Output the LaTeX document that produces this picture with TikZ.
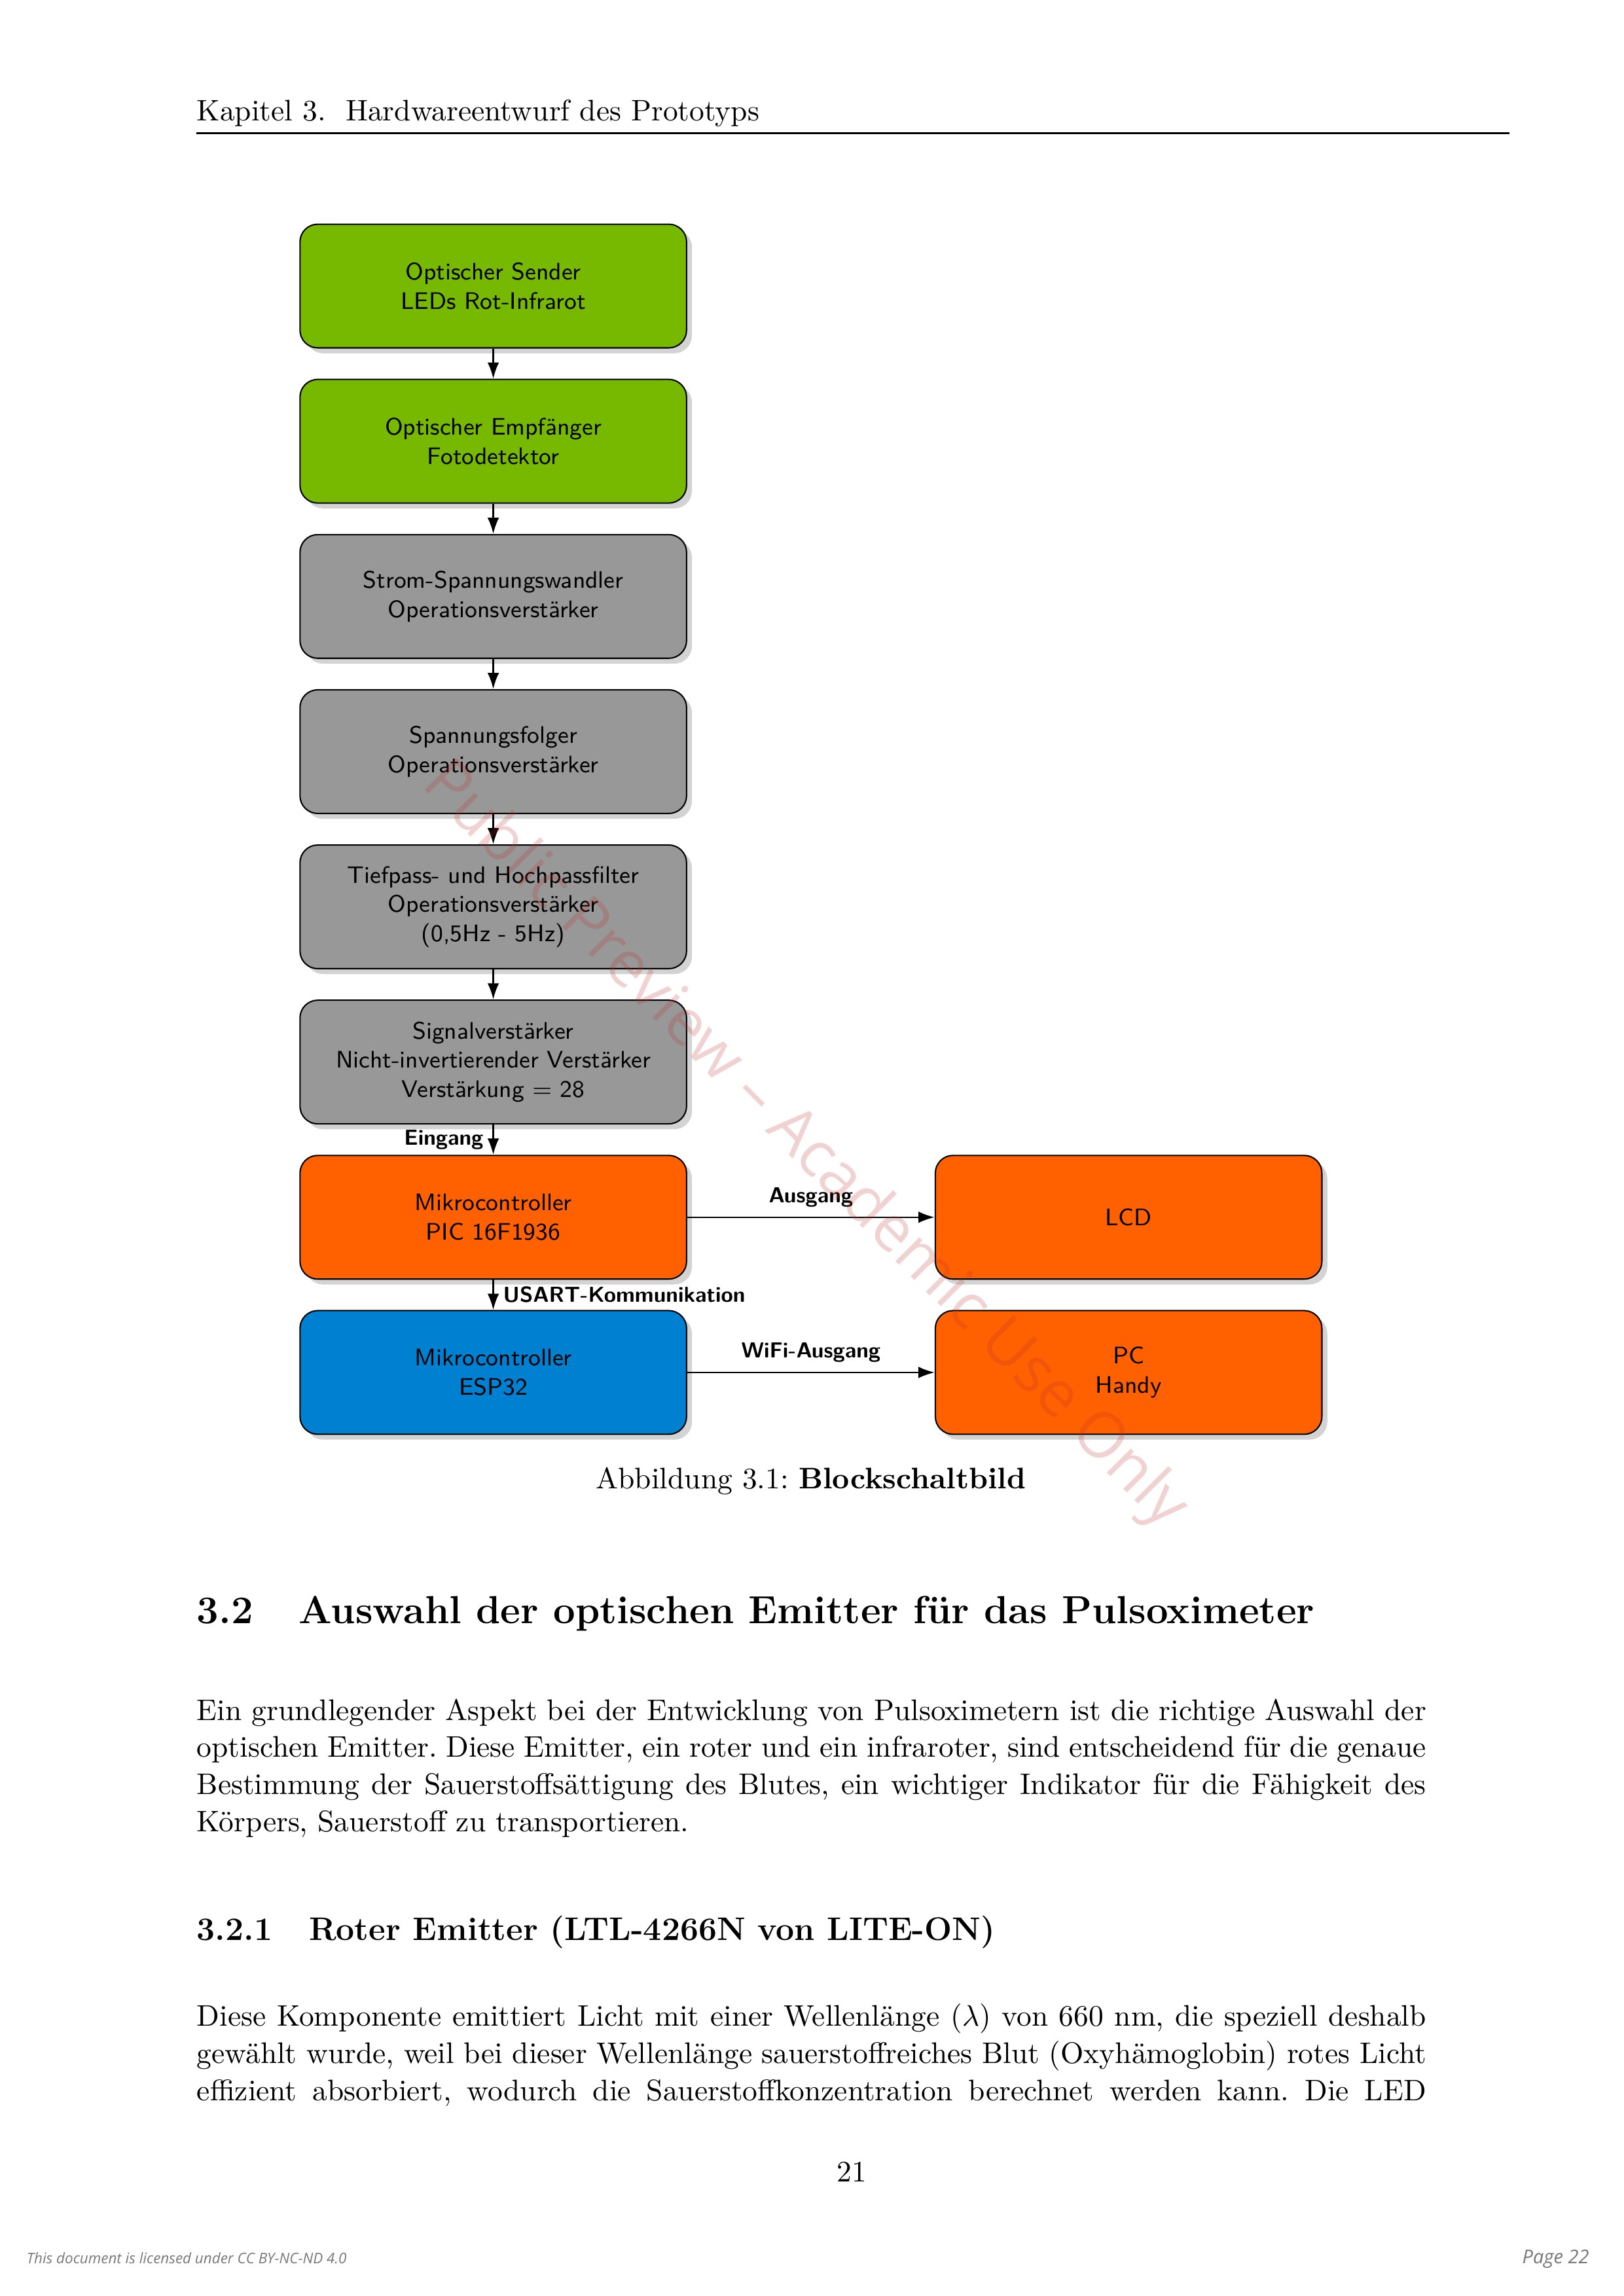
\documentclass[tikz,border=0pt]{standalone}
\usepackage{fontspec}
\newfontfamily\opensans{Open Sans}
\usetikzlibrary{positioning,shadows,arrows.meta}
\frenchspacing

\definecolor{sendgreen}{RGB}{118,185,0}
\definecolor{opgray}{RGB}{152,152,152}
\definecolor{outorange}{RGB}{255,96,0}
\definecolor{espblue}{RGB}{0,128,208}
\definecolor{wmred}{RGB}{190,50,50}
\definecolor{footgray}{RGB}{120,120,120}

\tikzset{
    block/.style={draw, rounded corners=2.3mm, minimum width=5cm, minimum height=1.6cm,
        align=center, line width=0.5pt, font=\fontsize{8.8}{10.8}\selectfont\sffamily,
        drop shadow={shadow xshift=0.7mm, shadow yshift=-0.7mm, opacity=0.35}},
    conn/.style={-{Latex[length=2.1mm,width=1.5mm]}, line width=0.6pt},
    lbl/.style={font=\fontsize{8}{9.6}\selectfont\sffamily\bfseries},
    body/.style={anchor=base west, inner sep=0pt, font=\fontsize{10.95}{13.6}\selectfont},
}

\begin{document}
\begin{tikzpicture}
    \useasboundingbox (0,0) rectangle (21,-29.7);

    % Kopfzeile
    \node[body] (hdr) at (2.54,-1.565) {Kapitel 3.\ \ Hardwareentwurf des Prototyps};
    \coordinate (rulel) at (2.54,-1.723);
    \coordinate (ruler) at (19.52,-1.723);
    \draw[line width=0.5pt] (rulel) -- (ruler);

    % Bloecke
    \begin{scope}[node distance=0.39cm]
        \node[block, fill=sendgreen] (sender) at (6.38,-3.70) {Optischer Sender\\LEDs Rot-Infrarot};
        \node[block, fill=sendgreen, below=of sender] (empf) {Optischer Empfänger\\Fotodetektor};
        \node[block, fill=opgray, below=of empf] (wandler) {Strom-Spannungswandler\\Operationsverstärker};
        \node[block, fill=opgray, below=of wandler] (folger) {Spannungsfolger\\Operationsverstärker};
        \node[block, fill=opgray, below=of folger] (filter) {Tiefpass- und Hochpassfilter\\Operationsverstärker\\(0,5Hz - 5Hz)};
        \node[block, fill=opgray, below=of filter] (sigamp) {Signalverstärker\\Nicht-invertierender Verstärker\\Verstärkung $=$ 28};
        \node[block, fill=outorange, below=of sigamp] (pic) {Mikrocontroller\\PIC 16F1936};
        \node[block, fill=espblue, below=of pic] (esp) {Mikrocontroller\\ESP32};
        \node[block, fill=outorange, right=3.2cm of pic] (lcd) {LCD};
        \node[block, fill=outorange, right=3.2cm of esp] (pc) {PC\\Handy};
    \end{scope}

    \draw[conn] (sender) -- (empf);
    \draw[conn] (empf) -- (wandler);
    \draw[conn] (wandler) -- (folger);
    \draw[conn] (folger) -- (filter);
    \draw[conn] (filter) -- (sigamp);
    \draw[conn] (sigamp) -- node[lbl, left] {Eingang} (pic);
    \draw[conn] (pic) -- node[lbl, right] {USART-Kommunikation} (esp);
    \draw[conn] (pic) -- node[lbl, above] {Ausgang} (lcd);
    \draw[conn] (esp) -- node[lbl, above] {WiFi-Ausgang} (pc);

    \node[body, anchor=base] (cap) at (10.49,-19.26) {Abbildung 3.1: \textbf{Blockschaltbild}};

    % Text
    \node[body, font=\fontsize{14.4}{18}\selectfont\bfseries] (secnum) at (2.54,-21.0) {3.2};
    \node[body, font=\fontsize{14.4}{18}\selectfont\bfseries] (sectitle) at (3.86,-21.0) {Auswahl der optischen Emitter für das Pulsoximeter};

    \node[body] (pa1) at (2.54,-22.25) {\makebox[159mm][s]{Ein grundlegender Aspekt bei der Entwicklung von Pulsoximetern ist die richtige Auswahl der}};
    \node[body] (pa2) at (2.54,-22.73) {\makebox[159mm][s]{optischen Emitter. Diese Emitter, ein roter und ein infraroter, sind entscheidend für die genaue}};
    \node[body] (pa3) at (2.54,-23.21) {\makebox[159mm][s]{Bestimmung der Sauerstoffsättigung des Blutes, ein wichtiger Indikator für die Fähigkeit des}};
    \node[body] (pa4) at (2.54,-23.69) {Körpers, Sauerstoff zu transportieren.};

    \node[body, font=\fontsize{12}{14.5}\selectfont\bfseries] (subnum) at (2.54,-25.10) {3.2.1};
    \node[body, font=\fontsize{12}{14.5}\selectfont\bfseries] (subtitle) at (3.99,-25.10) {Roter Emitter (LTL-4266N von LITE-ON)};

    \node[body] (pb1) at (2.54,-26.21) {\makebox[159mm][s]{Diese Komponente emittiert Licht mit einer Wellenlänge ($\lambda$) von 660 nm, die speziell deshalb}};
    \node[body] (pb2) at (2.54,-26.69) {\makebox[159mm][s]{gewählt wurde, weil bei dieser Wellenlänge sauerstoffreiches Blut (Oxyhämoglobin) rotes Licht}};
    \node[body] (pb3) at (2.54,-27.17) {\makebox[159mm][s]{effizient absorbiert, wodurch die Sauerstoffkonzentration berechnet werden kann. Die LED}};

    \node[body, anchor=base] (pagenum) at (11.02,-28.22) {21};

    % Fusszeile und Wasserzeichen
    \node[anchor=base west, inner sep=0pt, text=footgray, font=\opensans\itshape\fontsize{5.4}{6}\selectfont] (lic) at (0.34,-29.28) {This document is licensed under CC BY-NC-ND 4.0};
    \node[anchor=base east, inner sep=0pt, text=footgray, font=\opensans\itshape\fontsize{7}{8}\selectfont] (pagelbl) at (20.56,-29.28) {Page 22};
    \node[rotate=-45, text=wmred, text opacity=0.22, font=\opensans\fontsize{23.3}{28}\selectfont] (wm) at (10.40,-14.83) {Public Preview – Academic Use Only};
\end{tikzpicture}
\end{document}
